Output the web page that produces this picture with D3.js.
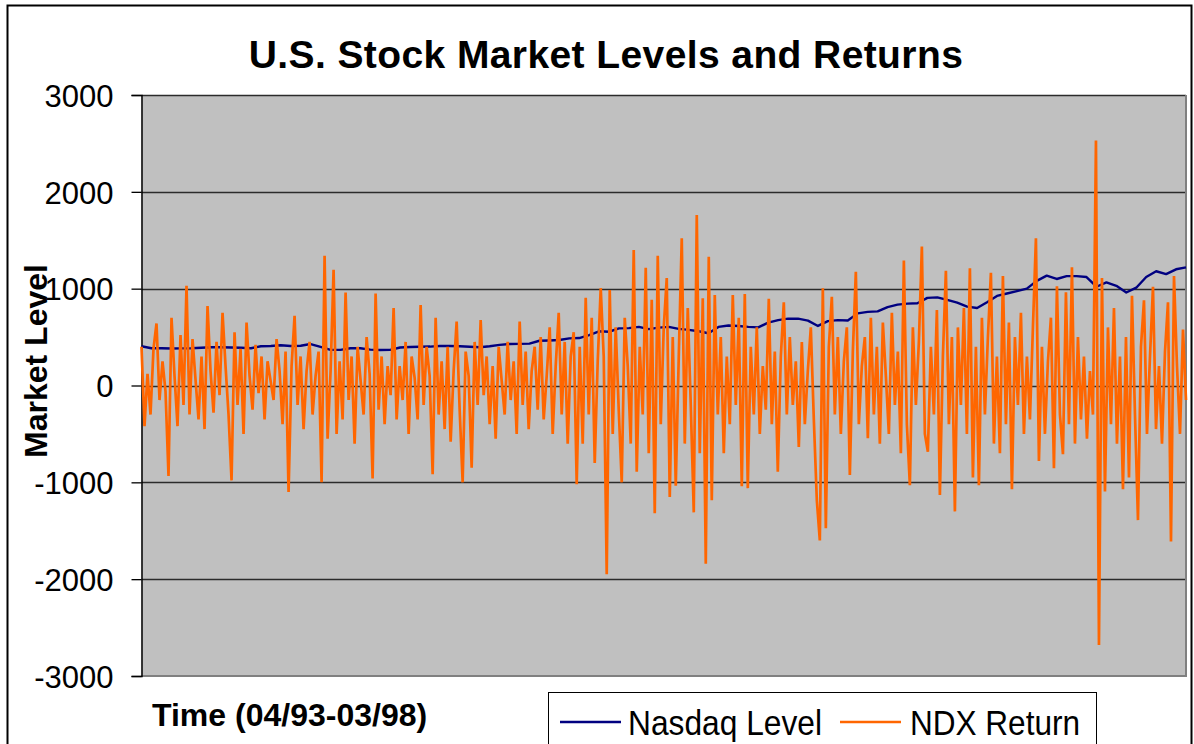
<!DOCTYPE html>
<html>
<head>
<meta charset="utf-8">
<script src="https://cdn.jsdelivr.net/npm/d3@7"></script>
<style>
  html, body { margin: 0; padding: 0; background: #fff; }
  svg { display: block; }
  text { font-family: "Liberation Sans", Arial, sans-serif; fill: #000; }
</style>
</head>
<body>
<svg id="chart" width="1194" height="744"></svg>
<script>
// ---- Data ----
const chartTitle = "U.S. Stock Market Levels and Returns";
const yAxisTitle = "Market Level";
const xAxisTitle = "Time (04/93-03/98)";
const seriesNames = ["Nasdaq Level", "NDX Return"];
const yTicks = [-3000, -2000, -1000, 0, 1000, 2000, 3000];
const yTickLabels = ["-3000", "-2000", "-1000", "0", "1000", "2000", "3000"];

// Nasdaq level, sampled evenly across the period
const nasdaqLevel = [
  405, 385, 385, 382, 383, 385, 390, 395, 395, 392,
  390, 385, 405, 408, 415, 408, 410, 428, 398, 368,
  368, 385, 385, 370, 367, 368, 392, 398, 400, 402,
  408, 408, 406, 400, 395, 405, 420, 428, 430, 432,
  462, 465, 470, 487, 490, 520, 560, 555, 590, 592,
  605, 582, 598, 605, 585, 575, 560, 540, 605, 620,
  615, 605, 600, 650, 675, 690, 690, 670, 615, 665,
  675, 672, 745, 760, 765, 810, 835, 845, 850, 905,
  910, 885, 855, 815, 800, 860, 925, 950, 975, 1000,
  1080, 1135, 1100, 1130, 1130, 1120, 1020, 1065, 1030, 960,
  1010, 1120, 1180, 1150, 1200, 1220
];

// NDX return, sampled evenly across the period
const ndxReturn = [
  400, -420, 120, -300, 380, 640, -150, 250, -60, -935,
  700, 100, -420, 520, -200, 1030, -300, 480, 60, -350,
  300, -450, 820, 150, -280, 450, -100, 750, 200, -300,
  -980, 550, -200, 380, -500, 650, 100, -250, 420, -80,
  300, -350, 250, 50, -150, 480, 150, -400, 350, -1100,
  200, 720, -200, 300, -450, 150, 450, -300, 100, 350,
  -1000, 1340, -550, 150, 1195, -500, 250, -350, 960, -150,
  300, -600, 400, 50, -300, 500, 120, -960, 950, -250,
  300, -400, 200, -100, 800, -350, 200, -150, 450, -500,
  300, 80, -350, 830, -200, 400, 100, -915, 700, -300,
  250, -450, 400, -580, 150, 660, -250, -1000, 350, 100,
  -850, 450, -200, 675, -100, 300, -400, 200, -550, 400,
  50, -300, 450, -150, 250, -500, 660, -200, 350, -450,
  150, 400, -250, 500, -350, 100, 600, -500, 200, 750,
  -300, 450, -600, 300, 550, -1020, 400, -600, 905, -300,
  700, -800, 250, 1005, 300, -1950, 985, -500, 600, -250,
  -1000, 700, 200, -600, 1400, -890, 400, -300, 1215, -700,
  885, -1320, 1340, -400, 600, 1110, -1150, 500, -1035, 300,
  1520, -600, 800, -200, -1310, 1760, -700, 900, -1840, 1330,
  -1185, 935, -300, 500, -700, 300, -400, 935, -200, 700,
  -1040, 945, -1060, 400, -300, 600, -500, 200, -250, 895,
  -400, 350, -890, 300, 860, -300, 500, -200, 250, -635,
  450, -400, 150, 600, -350, -1185, -1600, 1005, -1475, 400,
  915, -300, 500, -500, 250, 600, -925, 350, 1175, -400,
  200, 500, -545, 700, -300, 400, -600, 650, 100, -500,
  750, -200, 350, -700, 1290, -400, -1030, 600, -200, 450,
  1435, -500, -685, 400, -300, 780, -1130, 300, 1184, -400,
  500, -1300, 600, -200, 800, -500, 1210, -950, 400, -1030,
  700, -300, 500, 1165, -600, 300, -700, 1130, -400, 650,
  -1070, 500, -200, 750, -500, 300, -350, 600, 1520, -780,
  400, -500, 250, 700, -855, 1025, -300, -710, 963, -400,
  1220, -600, 500, -350, 300, -550, 150, -300, 2530, -2680,
  1110, -1095, 600, -400, 800, -600, 300, -1070, 500, -950,
  926, -300, -1390, 400, 880, -500, 300, 1020, -450, 200,
  -600, 350, 860, -1610, 1130, 200, -500, 577, -150
];

// ---- Drawing ----
const svg = d3.select("#chart");
const W = 1194, H = 744;
const plot = { left: 141.5, right: 1186, top: 95, bottom: 676 };

svg.append("rect").attr("x", 0).attr("y", 0).attr("width", W).attr("height", H).attr("fill", "#fff");
// outer chart border
svg.append("rect").attr("x", 7.5).attr("y", 5.5).attr("width", 1184).attr("height", 800)
  .attr("fill", "none").attr("stroke", "#000").attr("stroke-width", 2);

const y = d3.scaleLinear().domain([-3000, 3000]).range([plot.bottom, plot.top]);
const x = d3.scaleLinear().domain([0, ndxReturn.length - 1]).range([plot.left, plot.right]);
const nasdaqStep = (ndxReturn.length - 1) / (nasdaqLevel.length - 1);

// plot area
svg.append("rect").attr("x", plot.left).attr("y", plot.top)
  .attr("width", plot.right - plot.left).attr("height", plot.bottom - plot.top)
  .attr("fill", "#C0C0C0");

// gridlines
svg.append("g").selectAll("line").data(yTicks.filter(t => t > -3000)).join("line")
  .attr("x1", plot.left).attr("x2", plot.right)
  .attr("y1", d => Math.round(y(d)) + 0.5).attr("y2", d => Math.round(y(d)) + 0.5)
  .attr("stroke", "#2b2b2b").attr("stroke-width", 1.3);

// right and bottom plot border (gray)
svg.append("line").attr("x1", plot.right).attr("x2", plot.right).attr("y1", plot.top).attr("y2", plot.bottom)
  .attr("stroke", "#808080").attr("stroke-width", 2);
svg.append("line").attr("x1", plot.left).attr("x2", plot.right + 1).attr("y1", plot.bottom).attr("y2", plot.bottom)
  .attr("stroke", "#808080").attr("stroke-width", 2);

// y axis
const yAxis = d3.axisLeft(y).tickValues(yTicks).tickSize(10)
  .tickFormat((d, i) => yTickLabels[i]);
const gy = svg.append("g").attr("transform", `translate(${plot.left},0)`).call(yAxis);
gy.select(".domain").attr("stroke", "#000").attr("stroke-width", 1.5);
gy.selectAll(".tick line").attr("stroke", "#000").attr("stroke-width", 1.3);
gy.selectAll(".tick text")
  .style("font-family", '"Liberation Sans", Arial, sans-serif')
  .style("font-size", "31px").attr("fill", "#000").attr("dy", "0.36em")
  .attr("x", -28);

// series lines
const nasdaqLine = d3.line().x((d, i) => x(i * nasdaqStep)).y(d => y(d));
const ndxLine = d3.line().x((d, i) => x(i)).y(d => y(d));

svg.append("path").datum(nasdaqLevel).attr("d", nasdaqLine)
  .attr("fill", "none").attr("stroke", "#000080").attr("stroke-width", 2.4).attr("stroke-linejoin", "round");
svg.append("path").datum(ndxReturn).attr("d", ndxLine)
  .attr("fill", "none").attr("stroke", "#FF6600").attr("stroke-width", 2.7).attr("stroke-linejoin", "miter");

// title
svg.append("text").attr("x", 606).attr("y", 68).attr("text-anchor", "middle")
  .style("font-size", "39px").style("font-weight", "bold").style("letter-spacing", "0.4px")
  .text(chartTitle);

// y axis title
svg.append("text").attr("transform", "translate(47,361) rotate(-90)").attr("text-anchor", "middle")
  .style("font-size", "32px").style("font-weight", "bold")
  .text(yAxisTitle);

// x axis title
svg.append("text").attr("x", 152).attr("y", 726)
  .style("font-size", "32px").style("font-weight", "bold")
  .text(xAxisTitle);

// legend
const legend = svg.append("g");
legend.append("rect").attr("x", 548.5).attr("y", 692.5).attr("width", 548).attr("height", 90)
  .attr("fill", "#fff").attr("stroke", "#000").attr("stroke-width", 1);
const legendItems = [
  { name: seriesNames[0], color: "#000080", x0: 560, tx: 628, tw: 194 },
  { name: seriesNames[1], color: "#FF6600", x0: 840, tx: 910, tw: 170 }
];
legendItems.forEach(it => {
  legend.append("line").attr("x1", it.x0).attr("x2", it.x0 + 61).attr("y1", 722).attr("y2", 722)
    .attr("stroke", it.color).attr("stroke-width", 2.5);
  legend.append("text").attr("x", it.tx).attr("y", 735)
    .attr("textLength", it.tw).attr("lengthAdjust", "spacingAndGlyphs")
    .style("font-size", "35px").text(it.name);
});
</script>
</body>
</html>
